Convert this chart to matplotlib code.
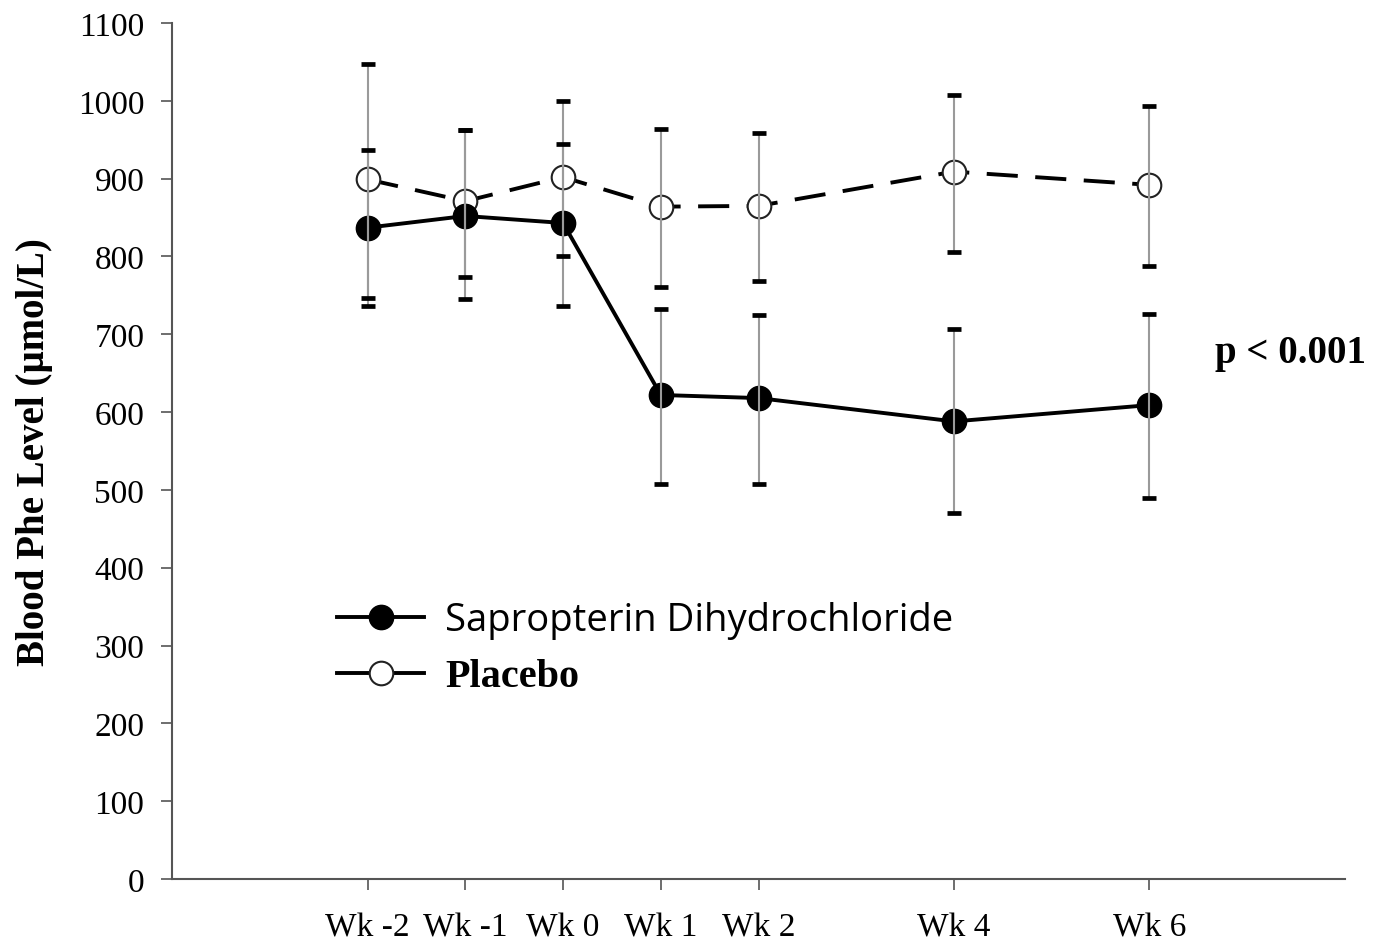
import numpy as np
import matplotlib
matplotlib.use("Agg")
import matplotlib.pyplot as plt
from matplotlib.lines import Line2D

# weeks and labels
weeks = [-2, -1, 0, 1, 2, 4, 6]
week_labels = ["Wk -2", "Wk -1", "Wk 0", "Wk 1", "Wk 2", "Wk 4", "Wk 6"]

# sapropterin group (mean, upper and lower whisker ends)
sap_mean = [837, 852, 843, 622, 618, 588, 609]
sap_upper = [937, 962, 945, 732, 725, 707, 726]
sap_lower = [736, 745, 736, 508, 508, 470, 489]

# placebo group
pla_mean = [899, 871, 902, 864, 865, 909, 892]
pla_upper = [1047, 962, 1000, 964, 959, 1007, 993]
pla_lower = [747, 773, 800, 761, 768, 806, 788]

serif = "Liberation Serif"

fig = plt.figure(figsize=(13.82, 9.45), dpi=100)
ax = fig.add_axes([0.1245, 0.0688, 0.8487, 0.9058])


def draw_bars(mean, upper, lower):
    mean = np.array(mean)
    yerr = [mean - np.array(lower), np.array(upper) - mean]
    _, caps, bars = ax.errorbar(weeks, mean, yerr=yerr, fmt="none",
                                ecolor="#9a9a9a", elinewidth=1.5,
                                capsize=4.8, capthick=3.4, zorder=4)
    for c in caps:
        c.set_color("black")
        c.set_markeredgecolor("black")
        c.set_zorder(5)


# lines with markers
ax.plot(weeks, pla_mean, color="black", lw=2.8, dashes=(8, 4.5),
        marker="o", markersize=17, markerfacecolor="white",
        markeredgecolor="#222222", markeredgewidth=1.5, zorder=2)
ax.plot(weeks, sap_mean, color="black", lw=2.8,
        marker="o", markersize=17.5, markerfacecolor="black",
        markeredgecolor="black", zorder=3)

draw_bars(pla_mean, pla_upper, pla_lower)
draw_bars(sap_mean, sap_upper, sap_lower)

ax.set_xlim(-4, 8)
ax.set_ylim(0, 1100)
ax.set_xticks(weeks)
ax.set_xticklabels(week_labels)
ax.set_yticks(np.arange(0, 1101, 100))

for s in ["top", "right"]:
    ax.spines[s].set_visible(False)
for s in ["left", "bottom"]:
    ax.spines[s].set_color("#555555")
    ax.spines[s].set_linewidth(1.5)

ax.tick_params(axis="both", direction="out", length=8, width=1.2,
               color="#555555", labelsize=24)
for lab in ax.get_xticklabels() + ax.get_yticklabels():
    lab.set_family(serif)
ax.tick_params(axis="x", pad=16)
ax.tick_params(axis="y", pad=12)

ax.set_ylabel("Blood Phe Level (\u00b5mol/L)", fontsize=28, fontweight="bold",
              family=serif, labelpad=18)

ax.text(7.44, 676, "p < 0.001", fontsize=28, fontweight="bold", family=serif,
        ha="center", va="center")

handles = [
    Line2D([], [], color="black", lw=2.8, marker="o", markersize=17.5,
           markerfacecolor="black"),
    Line2D([], [], color="black", lw=2.8, marker="o", markersize=17,
           markerfacecolor="white", markeredgecolor="#222222",
           markeredgewidth=1.5),
]
leg = ax.legend(handles, ["Sapropterin Dihydrochloride", "Placebo"],
                loc="upper left", bbox_to_anchor=(0.111, 0.365),
                frameon=False, fontsize=27.5, handlelength=2.3,
                handletextpad=0.55, labelspacing=0.5)
texts = leg.get_texts()
texts[0].set_family("Open Sans")
texts[1].set_family(serif)
texts[1].set_fontweight("bold")
texts[1].set_fontsize(29)

fig.savefig("out.png", dpi=100)
